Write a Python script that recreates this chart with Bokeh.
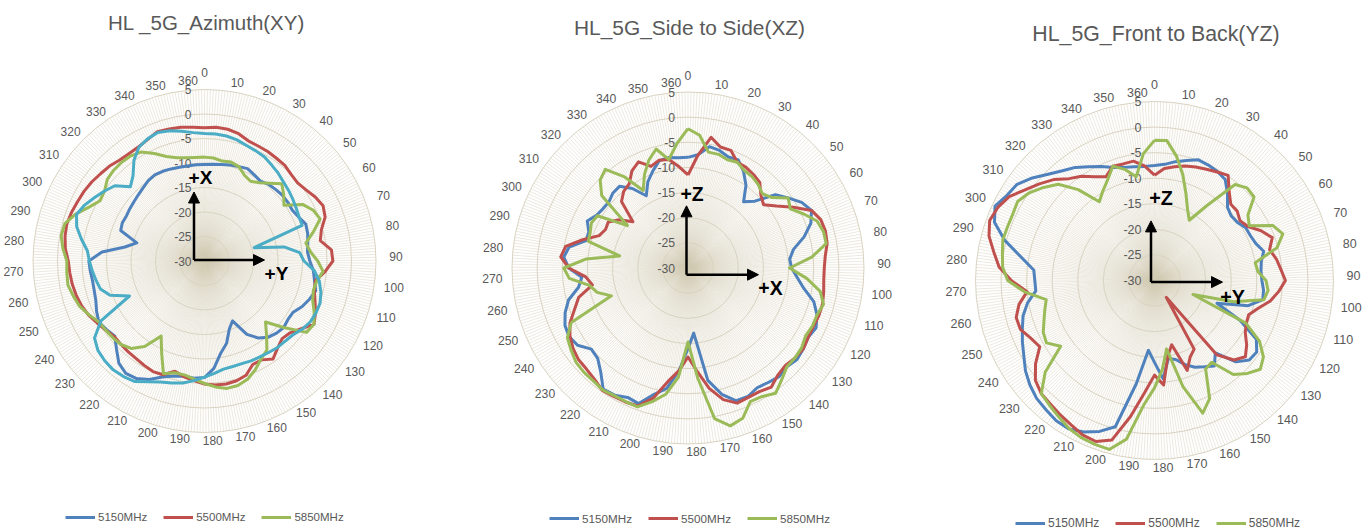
import numpy as np
from bokeh.plotting import figure
from bokeh.layouts import row
from bokeh.models import Range1d, Legend, LegendItem, Arrow, NormalHead
from bokeh.embed import file_html
from bokeh.resources import INLINE
from bokeh.core.properties import value

# Measured gain (dB) every 5 degrees, 0..355
DEG = list(range(0, 360, 5))

XY_5150 = [-10.3, -10.2, -10.0, -9.7, -9.5, -9.2, -9.7, -10.1, -9.6, -9.4,
           -9.2, -9.2, -9.3, -8.8, -8.0, -8.2, -8.6, -8.9, -8.5, -7.7,
           -7.2, -6.5, -7.2, -8.0, -9.1, -9.2, -8.9, -9.2, -9.7, -10.8,
           -12.7, -16.5, -15.2, -12.6, -10.9, -8.0, -6.2, -6.0, -6.1, -5.7,
           -4.8, -3.3, -2.3, -2.0, -2.8, -4.6, -6.1, -5.6, -5.1, -5.7,
           -6.4, -6.7, -6.8, -6.6, -6.4, -9.0, -13.5, -15.7, -11.8, -11.5,
           -11.6, -11.4, -11.2, -10.9, -10.5, -10.0, -9.7, -9.8, -10.0, -10.2,
           -10.3, -10.3]
XY_5500 = [-2.8, -2.6, -2.7, -3.1, -3.9, -4.1, -4.2, -4.4, -4.5, -5.0,
           -5.2, -4.7, -3.9, -3.3, -3.8, -5.3, -6.0, -4.0, -3.8, -5.3,
           -7.0, -6.8, -6.0, -5.0, -4.2, -5.9, -7.2, -7.6, -6.8, -5.6,
           -6.7, -6.7, -5.2, -4.7, -4.5, -4.6, -4.9, -5.5, -6.0, -6.7,
           -5.3, -5.1, -5.4, -5.7, -5.8, -5.9, -6.0, -5.4, -4.7, -3.9,
           -3.3, -2.9, -2.6, -2.4, -2.2, -1.5, -1.1, -0.9, -1.1, -1.4,
           -1.6, -1.9, -2.3, -2.6, -3.1, -3.2, -3.1, -2.6, -1.9, -2.1,
           -2.3, -2.6]
XY_5850 = [-8.8, -8.9, -9.3, -9.1, -9.5, -10.7, -11.2, -10.5, -9.3, -7.7,
           -8.9, -10.2, -6.9, -5.5, -4.9, -7.0, -9.0, -8.3, -6.9, -5.7,
           -6.7, -7.0, -6.5, -5.3, -4.2, -4.6, -8.9, -12.4, -10.3, -7.8,
           -6.9, -5.5, -4.3, -3.7, -3.6, -4.2, -5.0, -5.8, -6.4, -6.4,
           -5.5, -9.3, -12.3, -8.7, -6.7, -5.9, -5.6, -5.4, -5.1, -4.0,
           -2.9, -2.3, -1.7, -1.8, -1.9, -1.0, -0.3, -0.5, -2.0, -4.0,
           -5.4, -5.1, -4.1, -3.8, -3.7, -3.8, -4.3, -5.8, -7.3, -8.2,
           -8.6, -8.8]
XY_EXTRA = [-4.0, -4.0, -4.1, -4.4, -4.9, -5.2, -5.5, -6.1, -6.6, -7.2,
            -7.6, -8.0, -8.4, -8.7, -8.8, -19.5, -13.5, -10.5, -9.7, -7.5,
            -6.2, -5.4, -4.9, -4.9, -5.1, -5.7, -6.5, -6.8, -6.9, -7.2,
            -7.4, -7.5, -7.7, -7.7, -7.6, -7.0, -6.3, -5.5, -4.7, -4.2,
            -3.7, -2.8, -1.6, -1.2, -1.0, -1.2, -1.6, -2.6, -5.6, -13.1,
            -9.5, -8.0, -7.5, -7.0, -6.5, -6.0, -4.5, -3.0, -2.2, -3.0,
            -4.1, -5.1, -6.1, -8.6, -7.3, -4.9, -3.2, -2.5, -2.1, -2.5,
            -3.1, -3.7]

XZ_5150 = [-8.0, -7.4, -5.5, -5.8, -6.5, -6.3, -7.9, -9.9, -12.8, -11.2,
           -7.3, -5.7, -3.9, -2.9, -4.0, -6.1, -8.7, -9.7, -9.4, -8.2,
           -6.6, -4.1, -2.7, -1.9, -2.4, -2.0, -1.7, -2.2, -1.8, -2.2,
           -2.5, -1.8, -1.9, -4.0, -7.3, -17.0, -14.0, -9.5, -5.7, -4.0,
           -1.3, -1.6, -0.8, -0.6, -3.0, -4.6, -4.9, -3.2, -2.7, -3.0,
           -4.0, -5.4, -7.9, -8.8, -6.3, -5.2, -6.0, -9.0, -9.0, -7.9,
           -9.0, -9.4, -9.5, -8.9, -8.8, -10.7, -13.4, -11.1, -9.5, -7.9,
           -7.7, -8.0]
XZ_5500 = [-11.5, -7.5, -3.6, -5.1, -5.1, -6.8, -6.9, -7.3, -7.8, -9.5,
           -10.4, -8.5, -5.8, -2.9, -1.9, -1.7, -1.9, -2.6, -2.9, -2.9,
           -2.6, -2.3, -2.3, -2.5, -2.4, -2.0, -2.2, -2.6, -2.2, -1.1,
           -1.6, -1.6, -1.4, -2.9, -5.7, -9.4, -12.3, -9.5, -7.1, -3.2,
           -0.8, -0.6, -0.5, -0.3, -1.1, -1.5, -1.6, -2.1, -2.9, -4.1,
           -6.0, -7.5, -10.7, -9.6, -6.3, -4.6, -5.3, -8.3, -11.2, -11.9,
           -11.7, -13.3, -15.7, -11.3, -10.1, -9.6, -7.7, -6.7, -8.5, -7.8,
           -8.1, -9.8]
XZ_5850 = [-2.3, -3.5, -6.6, -6.6, -7.1, -6.8, -7.6, -7.8, -8.3, -9.1,
           -8.2, -5.7, -6.5, -4.6, -2.7, -2.1, -2.1, -5.3, -9.8, -6.3,
           -3.3, -2.1, -2.7, -2.7, -3.0, -2.4, -2.2, -2.2, -1.0, 0.4,
           -0.5, -0.7, 1.8, 2.5, 0.4, -8.1, -15.3, -8.2, -4.5, -2.5,
           -0.6, -0.7, -0.7, -0.4, -0.7, -0.7, -0.9, -1.6, -2.3, -4.4,
           -13.8, -11.3, -10.1, -6.3, -5.3, -9.6, -16.2, -9.5, -9.3, -8.8,
           -9.2, -15.3, -7.6, -5.3, -4.4, -7.8, -12.2, -9.5, -7.2, -5.5,
           -8.1, -5.1]

YZ_5150 = [-7.5, -7.2, -6.4, -5.7, -4.9, -5.1, -5.4, -5.9, -7.8, -9.8,
           -10.4, -10.2, -9.4, -9.3, -8.9, -7.9, -8.8, -9.1, -9.0, -8.6,
           -8.5, -11.0, -17.0, -11.5, -7.0, -5.6, -5.8, -7.5, -11.5, -9.6,
           -10.5, -11.3, -12.5, -14.0, -14.5, -10.7, -14.0, -16.3, -9.5, -0.4,
           1.4, 2.7, 3.5, 3.5, 3.0, 2.6, 1.8, 0.8, -0.5, -1.5,
           -2.5, -3.4, -4.8, -6.7, -6.6, -6.3, -3.5, 0.3, 3.3, 4.4,
           3.3, 2.8, 1.2, -0.6, -2.0, -3.0, -4.3, -5.4, -6.5, -7.1,
           -7.4, -7.6]
YZ_5500 = [-9.4, -8.0, -7.4, -6.8, -6.4, -6.0, -5.5, -4.9, -7.3, -8.9,
           -8.9, -9.6, -8.9, -7.0, -5.5, -6.7, -5.8, -5.2, -4.4, -5.6,
           -7.0, -9.0, -10.4, -10.2, -9.5, -8.0, -6.8, -8.0, -11.0, -26.0,
           -14.5, -13.5, -11.3, -17.0, -15.0, -9.5, -11.5, -8.0, -3.0, 2.3,
           3.5, 3.3, 2.6, 2.1, 1.6, 1.3, 0.4, -1.6, -4.1, -3.3,
           -2.1, -2.0, -3.1, -5.0, -2.0, 0.5, 1.9, 3.5, 4.3, 3.8,
           2.8, 0.9, -0.6, -2.1, -4.0, -5.1, -6.6, -7.6, -6.2, -6.4,
           -6.3, -7.5]
YZ_5850 = [-2.6, -2.5, -5.3, -8.6, -12.0, -14.7, -16.4, -12.1, -5.5, -4.4,
           -4.6, -7.7, -8.6, -4.5, -3.3, -5.2, -10.0, -9.7, -8.2, -7.7,
           -8.3, -14.0, -22.0, -10.3, -6.3, -4.0, -3.0, -4.3, -6.0, -10.5,
           -10.0, -4.5, -2.4, -8.5, -16.4, -12.5, -9.0, -5.5, 1.5, 4.2,
           4.1, 3.9, 3.4, 2.6, 1.9, 1.3, -2.1, -7.6, -5.6, -6.0,
           -7.0, -7.8, -8.5, -4.5, -1.3, -0.2, 0.2, 0.7, 0.6, 0.6,
           0.9, -0.1, -1.7, -3.4, -6.8, -11.2, -9.8, -8.3, -6.2, -7.5,
           -9.4, -5.1]

FREQ_LABELS = ["5150MHz", "5500MHz", "5850MHz"]
FREQ_COLORS = ["#4f81bd", "#c0504d", "#9bbb59"]
EXTRA_COLOR = "#4bacc6"

DB_MIN, DB_MAX = -30, 5
RING_VALUES = [5, 0, -5, -10, -15, -20, -25, -30]
ANGLE_TICKS = list(range(0, 361, 10))
N_CATEGORIES = 365          # category slots around the circle

FONT = "Liberation Sans"
TEXT_GREY = "#595959"
RING_COLOR = "#d9d3c1"
SPOKE_COLOR = "#d4ccb6"
HEIGHT = 532


def to_xy(deg, db):
    t = np.radians(np.asarray(deg, float))
    r = np.asarray(db, float) - DB_MIN
    return r * np.sin(t), r * np.cos(t)


def polar_chart(title, series, extra, left, width, cx, cy, radius,
                arrows, axis_names, legend_xy, fs=1.0):
    s = radius / (DB_MAX - DB_MIN)          # pixels per dB
    ox = cx - left
    p = figure(width=width, height=HEIGHT,
               x_range=Range1d(-ox / s, (width - ox) / s),
               y_range=Range1d(-(HEIGHT - cy) / s, cy / s),
               output_backend="svg", toolbar_location=None,
               x_axis_location=None, y_axis_location=None, min_border=0)
    p.grid.visible = False
    p.outline_line_color = None
    p.background_fill_color = "white"
    p.border_fill_color = "white"

    def px(xp, yp):
        return (xp - cx) / s, (cy - yp) / s

    full = DB_MAX - DB_MIN
    # radial spokes, one per category slot
    phi = np.radians(np.arange(N_CATEGORIES) * 360.0 / N_CATEGORIES)
    p.segment(x0=np.zeros(len(phi)), y0=np.zeros(len(phi)),
              x1=full * np.sin(phi), y1=full * np.cos(phi),
              line_color=SPOKE_COLOR, line_width=0.8, line_alpha=0.55)
    # concentric value rings
    rings = [v - DB_MIN for v in RING_VALUES if v > DB_MIN]
    p.circle(x=[0] * len(rings), y=[0] * len(rings), radius=rings,
             fill_color=None, line_color=RING_COLOR, line_width=1)

    # angle labels
    a = np.radians(np.array(ANGLE_TICKS) * 360.0 / (N_CATEGORIES))
    rx = (radius + 20) / s
    ry = (radius + 9) / s
    lx = rx * np.sin(a)
    ly = ry * np.cos(a) + 1 / s
    ly[0] += 7 / s
    p.text(x=lx, y=ly, text=[str(t) for t in ANGLE_TICKS],
           text_align="center", text_baseline="middle",
           text_font=value(FONT), text_font_size=f"{12 * fs:.1f}px",
           text_color=TEXT_GREY)
    # value labels along the 0-degree spoke
    p.text(x=[-13 / s] * len(RING_VALUES),
           y=[v - DB_MIN for v in RING_VALUES],
           text=[str(v) for v in RING_VALUES],
           text_align="right", text_baseline="middle",
           text_font=value(FONT), text_font_size=f"{12 * fs:.1f}px",
           text_color=TEXT_GREY)

    # data traces
    renderers = []
    for vals, color in zip(series, FREQ_COLORS):
        x, y = to_xy(DEG + [DEG[0]], vals + [vals[0]])
        r = p.line(x, y, line_color=color, line_width=3, line_join="round")
        renderers.append(r)
    if extra is not None:
        x, y = to_xy(DEG + [DEG[0]], extra + [extra[0]])
        p.line(x, y, line_color=EXTRA_COLOR, line_width=3, line_join="round")

    # coordinate-axis arrows
    (c0, up, rt), (n_up, n_rt) = arrows, axis_names
    for tip in (up, rt):
        xs, ys = px(*c0)
        xe, ye = px(*tip)
        p.add_layout(Arrow(x_start=xs, y_start=ys, x_end=xe, y_end=ye,
                           line_color="black", line_width=2.5,
                           end=NormalHead(size=11, fill_color="black",
                                          line_color="black", line_width=1)))
    for (name, pos) in (n_up, n_rt):
        tx, ty = px(*pos)
        p.text(x=[tx], y=[ty], text=[name], text_align="center",
               text_baseline="middle", text_font=value(FONT),
               text_font_style="bold", text_font_size=f"{19 * fs:.1f}px",
               text_color="black")

    # title
    tx, ty = px(*title[1])
    p.text(x=[tx], y=[ty], text=[title[0]], text_align="center",
           text_baseline="middle", text_font=value(FONT),
           text_font_size=f"{20.5 * fs:.1f}px", text_color=TEXT_GREY)

    legend = Legend(items=[LegendItem(label=l, renderers=[r])
                           for l, r in zip(FREQ_LABELS, renderers)],
                    location=legend_xy, orientation="horizontal",
                    glyph_width=30, glyph_height=14, label_standoff=3,
                    spacing=16, padding=0, margin=0,
                    border_line_color=None, background_fill_alpha=0,
                    label_text_font=FONT,
                    label_text_font_size=f"{11.5 * fs:.1f}px",
                    label_text_color=TEXT_GREY, label_height=14)
    p.add_layout(legend)
    return p


p1 = polar_chart(("HL _5G_Azimuth(XY)", (206, 22)),
                 [XY_5150, XY_5500, XY_5850], XY_EXTRA,
                 left=0, width=455, cx=204, cy=260.5, radius=171.5,
                 arrows=((193.5, 259.5), (193.5, 191.5), (264, 259.5)),
                 axis_names=(("+X", (200, 177)), ("+Y", (276, 273))),
                 legend_xy=(65, 8))
p2 = polar_chart(("HL_5G_Side to Side(XZ)", (689, 27)),
                 [XZ_5150, XZ_5500, XZ_5850], None,
                 left=455, width=460, cx=687.5, cy=267.5, radius=176,
                 arrows=((686, 274.2), (686, 205.3), (758, 274.2)),
                 axis_names=(("+Z", (691.5, 193.4)), ("+X", (770, 287.7))),
                 legend_xy=(94, 7), fs=1.02)
p3 = polar_chart(("HL_5G_Front to Back(YZ)", (1155.5, 33)),
                 [YZ_5150, YZ_5500, YZ_5850], None,
                 left=915, width=457, cx=1154, cy=280, radius=179,
                 arrows=((1150.5, 281.6), (1150.5, 220.4), (1222, 281.6)),
                 axis_names=(("+Z", (1160.5, 197.5)), ("+Y", (1232, 296))),
                 legend_xy=(100, 2), fs=1.04)

layout = row(p1, p2, p3)
open("out.html", "w").write(file_html(layout, INLINE))
